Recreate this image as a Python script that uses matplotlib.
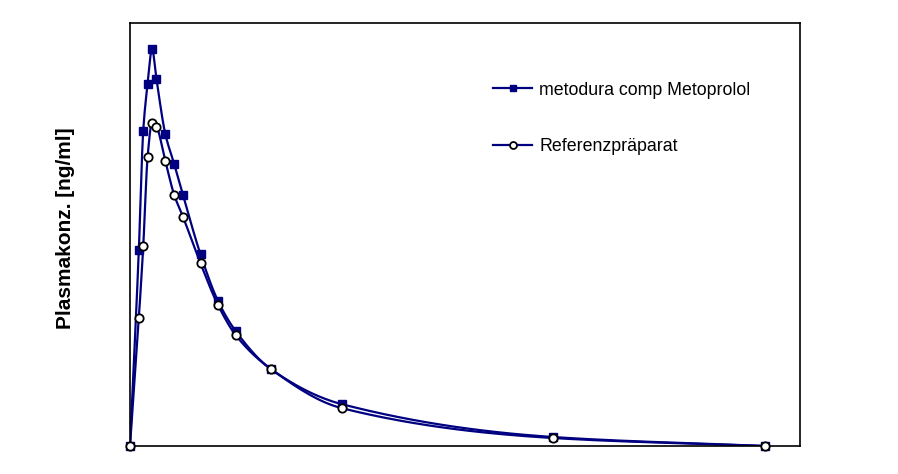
import numpy as np
import matplotlib
matplotlib.use("Agg")
import matplotlib.pyplot as plt
from matplotlib.lines import Line2D

# sampling times [h]
times = [0, 0.5, 0.75, 1, 1.25, 1.5, 2, 2.5, 3, 4, 5, 6, 8, 12, 24, 36]

# plasma concentration (arbitrary units)
metodura = [0, 49, 79, 90.75, 99.5, 92, 78.25, 70.75, 63, 48, 36.25, 28.75,
            19.25, 10.5, 2.25, 0]
referenz = [0, 32, 50, 72.5, 81, 80, 71.5, 63, 57.5, 45.75, 35.25, 27.75,
            19.25, 9.5, 2, 0]

labels = ["metodura comp Metoprolol", "Referenzpräparat"]

NAVY = "#000080"


def pchip(x, y, n=30):
    """ monotone cubic curve through the points, only used for drawing """
    x = np.asarray(x, float)
    y = np.asarray(y, float)
    h = np.diff(x)
    d = np.diff(y) / h
    m = np.zeros_like(y)
    for k in range(1, len(x) - 1):
        if d[k - 1] * d[k] > 0:
            w1 = 2 * h[k] + h[k - 1]
            w2 = h[k] + 2 * h[k - 1]
            m[k] = (w1 + w2) / (w1 / d[k - 1] + w2 / d[k])
    m[0] = d[0]
    m[-1] = d[-1] if d[-1] * d[-2] > 0 else 0
    xs, ys = [], []
    for k in range(len(x) - 1):
        t = np.linspace(0, 1, n, endpoint=False)
        h00 = 2 * t**3 - 3 * t**2 + 1
        h10 = t**3 - 2 * t**2 + t
        h01 = -2 * t**3 + 3 * t**2
        h11 = t**3 - t**2
        xs.append(x[k] + t * h[k])
        ys.append(h00 * y[k] + h10 * h[k] * m[k] + h01 * y[k + 1] + h11 * h[k] * m[k + 1])
    xs.append([x[-1]])
    ys.append([y[-1]])
    return np.concatenate(xs), np.concatenate(ys)


plt.rcParams['font.family'] = ['Liberation Sans', 'DejaVu Sans']

fig = plt.figure(figsize=(8.98, 4.74), dpi=100)
ax = fig.add_axes([130 / 898, 28 / 474, 670 / 898, 423 / 474])

xs, ys = pchip(times, metodura)
ax.plot(xs, ys, color=NAVY, lw=1.6, zorder=2)
ax.plot(times, metodura, ls="none", marker="s", ms=6, mfc=NAVY, mec=NAVY,
        zorder=3, clip_on=False)

xs, ys = pchip(times, referenz)
ax.plot(xs, ys, color=NAVY, lw=1.6, zorder=2)
ax.plot(times, referenz, ls="none", marker="o", ms=6, mfc="white", mec="black",
        mew=1.3, zorder=4, clip_on=False)

ax.set_xlim(0, 38)
ax.set_ylim(0, 106)
ax.set_xticks([])
ax.set_yticks([])
for s in ax.spines.values():
    s.set_linewidth(1.2)

ax.set_ylabel("Plasmakonz. [ng/ml]", fontsize=15, fontweight="bold")
ax.yaxis.set_label_coords(-0.082, 0.515)

handles = [
    Line2D([], [], color=NAVY, lw=1.6, marker="s", ms=5, mfc=NAVY, mec=NAVY),
    Line2D([], [], color=NAVY, lw=1.6, marker="o", ms=5, mfc="white", mec="black", mew=1.3),
]
ax.legend(handles, labels, loc="center left", bbox_to_anchor=(0.542, 0.775),
          frameon=False, fontsize=12.8, handlelength=2.2, handletextpad=0.4,
          labelspacing=2.2, borderaxespad=0, borderpad=0)

fig.savefig("out.png", dpi=100)
